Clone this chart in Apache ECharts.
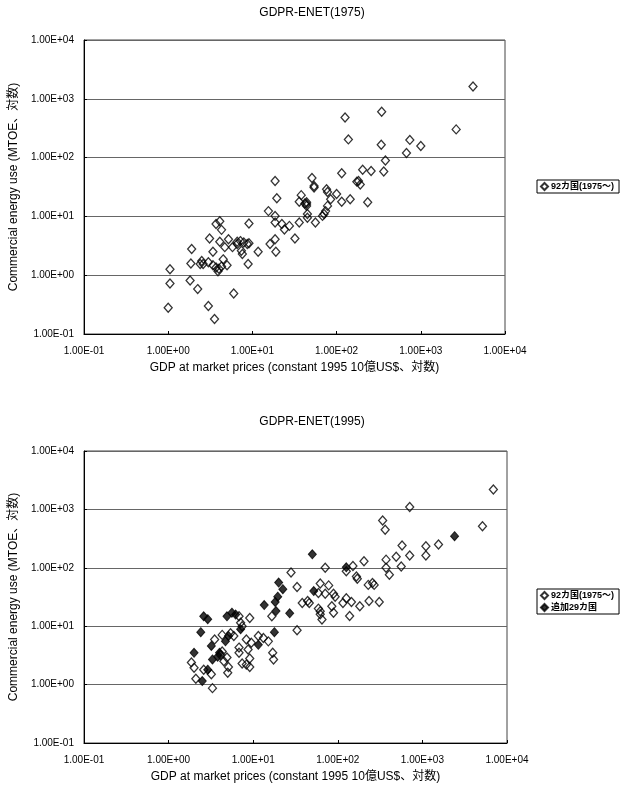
<!DOCTYPE html>
<html>
<head>
<meta charset="utf-8">
<script src="https://cdn.jsdelivr.net/npm/echarts@6/dist/echarts.min.js"></script>
<style>
  html, body { margin: 0; padding: 0; background: #fff; }
  #chart { width: 622px; height: 789px; }
</style>
</head>
<body>
<div id="chart"></div>
<script>
// 1975: GDP (10億US$) vs commercial energy use (MTOE), 92 countries
const gdp1975 = [4170, 126, 343, 2630, 138, 339, 741, 1000, 676, 380, 363, 115, 204, 257, 182, 174, 191,
  51, 54, 76, 54, 78, 100, 85, 115, 145, 234, 44, 44, 45, 45, 56, 74, 78, 71, 68,
  18.6, 19.5, 15.5, 18.6, 18.6, 16.2, 18.6, 19, 22.4, 24, 27.5, 32, 36, 38, 36, 42, 44,
  4.1, 3.7, 4.3, 9.1, 3.1, 1.9, 4.1, 5.2, 6.6, 7.2, 7.9, 8.7, 9.1, 6.6, 7.4, 7.6, 3.4, 4.7, 5.8, 11.7, 8.9,
  1.86, 2.5, 2.4, 2.6, 3.0, 3.4, 4.5, 3.7, 4.0, 4.3, 5.0, 3.9, 1.05, 1.05, 1.0, 1.82, 2.24, 3.0, 3.55, 6.0];
const enet1975 = [1620, 479, 603, 302, 204, 166, 200, 158, 120, 89, 58, 54, 62, 59, 40, 39, 35,
  45, 33, 29, 31, 26, 24, 19.5, 17.8, 19.5, 17.4, 17.4, 15.1, 11, 9.5, 7.9, 12.3, 15.1, 11, 10.2,
  40, 20.4, 12.3, 10.2, 7.9, 3.4, 4.1, 2.5, 7.4, 6.0, 6.9, 4.2, 7.9, 23, 17.8, 16.6, 16.2,
  8.3, 7.4, 5.9, 7.6, 4.2, 2.8, 3.7, 4.1, 3.7, 3.8, 3.6, 3.4, 3.5, 3.4, 2.6, 2.3, 2.5, 3.0, 3.0, 2.5, 1.55,
  1.58, 1.74, 1.55, 1.55, 1.66, 1.48, 1.86, 1.35, 1.29, 1.41, 1.48, 1.17, 1.26, 0.72, 0.28, 0.81, 0.58, 0.30, 0.18, 0.49];

// 1995: same 92 countries
const gdp1995 = [6900, 708, 5130, 339, 363, 575, 1550, 1100, 1100, 708, 490, 372, 562, 372, 407, 204, 151,
  126, 166, 170, 71, 229, 257, 269, 62, 78, 59, 71, 89, 93, 44, 46, 126, 145, 115, 85, 59, 182, 234, 309,
  62, 65, 62, 138, 89, 28, 33, 38,
  9.1, 6.8, 7.1, 7.4, 16.6, 33, 15.1, 13.2, 11.5, 8.3, 9.5, 8.7, 4.3, 5.4, 5.9, 3.5, 4.3, 4.1, 4.9, 4.5,
  6.8, 6.8, 17, 17.4, 7.4, 8.3, 9.1, 9.1, 5.1, 5.0, 1.86, 2.0, 2.6, 3.2, 2.1, 3.3];
const enet1995 = [2190, 1100, 513, 646, 447, 240, 251, 234, 162, 162, 155, 138, 105, 100, 76, 129, 107,
  87, 71, 65, 100, 51, 55, 51, 54, 50, 37, 36, 36, 32, 27, 25, 30, 26, 25, 22, 20, 22, 27, 26,
  16, 13, 18, 15, 17, 83, 47, 25,
  13.8, 14.8, 11.5, 10, 14.8, 8.5, 5.5, 6.3, 6.8, 5.9, 5.2, 4.0, 7.1, 7.6, 6.8, 5.9, 3.7, 3.2, 2.9, 2.5,
  4.3, 3.5, 3.5, 2.7, 2.3, 2.2, 2.0, 2.8, 2.0, 1.6, 2.4, 1.95, 1.8, 1.5, 1.26, 0.87];

// 1995: 29 added countries
const gdpAdded = [2400, 126, 50, 52, 20, 22.4, 19.5, 18.2, 13.5, 18.6, 27, 2.6, 2.9, 4.9, 5.6, 6.2,
  2.4, 7.1, 5.1, 4.7, 3.2, 4.0, 3.8, 3.3, 2.0, 2.9, 2.5, 11.5, 17.8];
const enetAdded = [347, 102, 170, 40, 56, 43, 32, 26, 23, 18.2, 16.6, 14.8, 13.2, 14.8, 17, 15.8,
  7.9, 8.9, 6.8, 5.5, 4.6, 3.5, 3.0, 2.7, 3.5, 1.8, 1.15, 4.8, 7.9];

const tickLabels = ['1.00E-01', '1.00E+00', '1.00E+01', '1.00E+02', '1.00E+03', '1.00E+04'];
const titles = ['GDPR-ENET(1975)', 'GDPR-ENET(1995)'];
const seriesNames = ['92カ国(1975～)', '追加29カ国'];
const xName = 'GDP at market prices (constant 1995 10億US$、対数)';
const yName = 'Commercial energy use (MTOE、対数)';

const FONT = 'Liberation Sans, Arial, Noto Sans CJK JP, sans-serif';

const zip = (xs, ys) => xs.map((x, i) => [x, ys[i]]);
const fmt = v => tickLabels[Math.round(Math.log10(v)) + 1];

const grids = [
  { left: 75, top: 40, width: 430, height: 294 },
  { left: 76, top: 451, width: 431, height: 292 }
];

const makeX = gi => ({
  type: 'log', logBase: 10, gridIndex: gi, min: 0.1, max: 10000, interval: 1,
  name: xName, nameLocation: 'middle', nameGap: 28,
  nameTextStyle: { fontFamily: FONT, fontSize: 12, color: '#000' },
  axisLine: { show: true, lineStyle: { color: '#000', width: 1 } },
  axisTick: { show: true, inside: true, length: 3, lineStyle: { color: '#000' } },
  axisLabel: { formatter: fmt, fontFamily: FONT, fontSize: 10, color: '#000', margin: 12 },
  splitLine: { show: false }
});

const makeY = gi => ({
  type: 'log', logBase: 10, gridIndex: gi, min: 0.1, max: 10000, interval: 1,
  name: yName, nameLocation: 'middle', nameGap: 62,
  nameTextStyle: { fontFamily: FONT, fontSize: 12, color: '#000' },
  axisLine: { show: true, lineStyle: { color: '#000', width: 1 } },
  axisTick: { show: true, inside: true, length: 3, lineStyle: { color: '#000' } },
  axisLabel: { formatter: fmt, fontFamily: FONT, fontSize: 10, color: '#000', margin: 10 },
  splitLine: { show: true, lineStyle: { color: '#666', width: 1 } }
});

const hollow = { color: 'rgba(255,255,255,0)', borderColor: '#000', borderWidth: 1.3 };
const solid = { color: '#000', borderColor: '#000', borderWidth: 1 };

const legendBase = {
  left: 537, orient: 'vertical', icon: 'diamond', itemWidth: 7, itemHeight: 7, itemGap: 3,
  padding: [2, 5, 2, 3], borderColor: '#000', borderWidth: 1,
  textStyle: { fontFamily: FONT, fontSize: 9, fontWeight: 'bold', color: '#000', padding: [0, 0, 0, -2] }
};

const chart = echarts.init(document.getElementById('chart'));
chart.setOption({
  backgroundColor: '#fff',
  animation: false,
  title: titles.map((t, i) => ({
    text: t, left: 307, top: i === 0 ? 2 : 411, textAlign: 'center',
    textStyle: { fontFamily: FONT, fontSize: 12, fontWeight: 'normal', color: '#000' }
  })),
  grid: grids.map(g => Object.assign({ show: true, borderColor: '#444', borderWidth: 1 }, g)),
  xAxis: [makeX(0), makeX(1)],
  yAxis: [makeY(0), makeY(1)],
  legend: [
    Object.assign({}, legendBase, { data: [seriesNames[0]], top: 180 }),
    Object.assign({}, legendBase, {
      data: [seriesNames[0] + ' ', seriesNames[1]], top: 589,
      formatter: n => n.trim()
    })
  ],
  series: [
    {
      name: seriesNames[0], type: 'scatter', xAxisIndex: 0, yAxisIndex: 0,
      symbol: 'diamond', symbolSize: [8, 9], itemStyle: hollow,
      data: zip(gdp1975, enet1975)
    },
    {
      name: seriesNames[0] + ' ', type: 'scatter', xAxisIndex: 1, yAxisIndex: 1,
      symbol: 'diamond', symbolSize: [8, 9], itemStyle: hollow,
      data: zip(gdp1995, enet1995)
    },
    {
      name: seriesNames[1], type: 'scatter', xAxisIndex: 1, yAxisIndex: 1,
      symbol: 'diamond', symbolSize: [8, 9], itemStyle: solid,
      data: zip(gdpAdded, enetAdded)
    }
  ]
});
</script>
</body>
</html>
